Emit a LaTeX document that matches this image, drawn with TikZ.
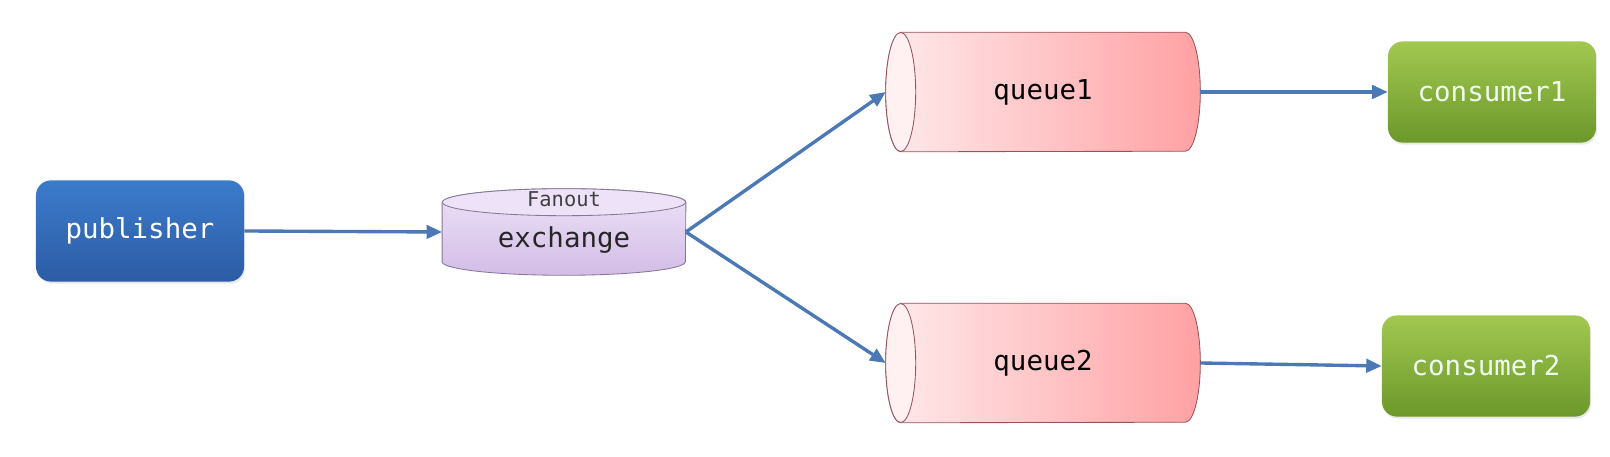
\documentclass[tikz,border=0pt]{standalone}
\usepackage{fontspec}
\setmonofont{DejaVu Sans Mono}
\usetikzlibrary{arrows.meta,calc,backgrounds,shadows}

\definecolor{pubtop}{HTML}{3C7BCB}
\definecolor{pubbot}{HTML}{2C5CA5}
\definecolor{contop}{HTML}{A2C850}
\definecolor{conbot}{HTML}{6C982B}
\definecolor{extop}{HTML}{EDE2F8}
\definecolor{exbot}{HTML}{D3BDE6}
\definecolor{exline}{HTML}{857796}
\definecolor{qleft}{HTML}{FFEAEC}
\definecolor{qright}{HTML}{FFA1A3}
\definecolor{qend}{HTML}{FFF0F2}
\definecolor{qline}{HTML}{96545A}
\definecolor{flowblue}{HTML}{4B79B6}

\tikzset{
  box/.style={rounded corners=0.375cm, minimum width=5.2cm, minimum height=2.53cm,
    text=white, font=\ttfamily\fontsize{19.5}{22}\selectfont,
    drop shadow={opacity=0.18, shadow xshift=0.8pt, shadow yshift=-1.5pt}},
  pubbox/.style={box, top color=pubtop, bottom color=pubbot},
  conbox/.style={box, top color=contop, bottom color=conbot, text=white!94!green},
  cylbox/.style={inner sep=0pt, font=\ttfamily\fontsize{19.5}{22}\selectfont},
  exbody/.style={top color=extop, bottom color=exbot, draw=exline, line width=0.6pt},
  exend/.style={fill=extop, draw=exline, line width=0.6pt},
  qbody/.style={left color=qleft, right color=qright, draw=qline, line width=0.6pt},
  qend/.style={fill=qend, draw=qline, line width=0.6pt},
  flow/.style={draw=flowblue, line width=2.4pt, -{Triangle[length=11pt,width=9.5pt]}}
}

\begin{document}
\begin{tikzpicture}[x=0.025cm, y=0.025cm]
\useasboundingbox (0,0) rectangle (1610,457);

% Nodes
\node[pubbox] (pub) at (140,226) {publisher};
\node[cylbox, minimum width=6.08cm, minimum height=2.15cm] (ex) at (564,225) {};
\node[cylbox, minimum width=7.85cm, minimum height=2.975cm] (q1) at (1043,365) {queue1};
\node[cylbox, minimum width=7.85cm, minimum height=2.975cm] (q2) at (1043,94) {queue2};
\node[conbox] (c1) at (1492,365) {consumer1};
\node[conbox] (c2) at (1486,91) {consumer2};

% Exchange texts
\node[cylbox, text=black!85] (exname) at ($(ex.center)+(0,-8)$) {exchange};
\node[cylbox, text=black!75, font=\ttfamily\fontsize{14.5}{16}\selectfont] (fanout) at ($(ex.north)+(0,-11)$) {Fanout};

% Cylinders
\begin{scope}[on background layer]
\fill[white] (0,0) rectangle (1610,457);

\shade[exbody] ($(ex.north west)+(0,-13.5)$) -- ($(ex.south west)+(0,13.5)$)
  arc[start angle=180, end angle=360, x radius=3.04cm, y radius=0.3375cm]
  -- ($(ex.north east)+(0,-13.5)$)
  arc[start angle=0, end angle=180, x radius=3.04cm, y radius=0.3375cm] -- cycle;
\filldraw[exend] ($(ex.north)+(0,-13.5)$) ellipse[x radius=3.04cm, y radius=0.3375cm];

\shade[qbody] ($(q1.north west)+(15,0)$) -- ($(q1.north east)+(-15,0)$)
  arc[start angle=90, end angle=-90, x radius=0.375cm, y radius=1.4875cm]
  -- ($(q1.south west)+(15,0)$)
  arc[start angle=270, end angle=90, x radius=0.375cm, y radius=1.4875cm] -- cycle;
\filldraw[qend] ($(q1.west)+(15,0)$) ellipse[x radius=0.375cm, y radius=1.4875cm];

\shade[qbody] ($(q2.north west)+(15,0)$) -- ($(q2.north east)+(-15,0)$)
  arc[start angle=90, end angle=-90, x radius=0.375cm, y radius=1.4875cm]
  -- ($(q2.south west)+(15,0)$)
  arc[start angle=270, end angle=90, x radius=0.375cm, y radius=1.4875cm] -- cycle;
\filldraw[qend] ($(q2.west)+(15,0)$) ellipse[x radius=0.375cm, y radius=1.4875cm];
\end{scope}

% Arrows
\draw[flow] (pub.east) -- (ex.west);
\draw[flow] (ex.east) -- (q1.west);
\draw[flow] (ex.east) -- (q2.west);
\draw[flow] (q1.east) -- (c1.west);
\draw[flow] (q2.east) -- (c2.west);
\end{tikzpicture}
\end{document}
